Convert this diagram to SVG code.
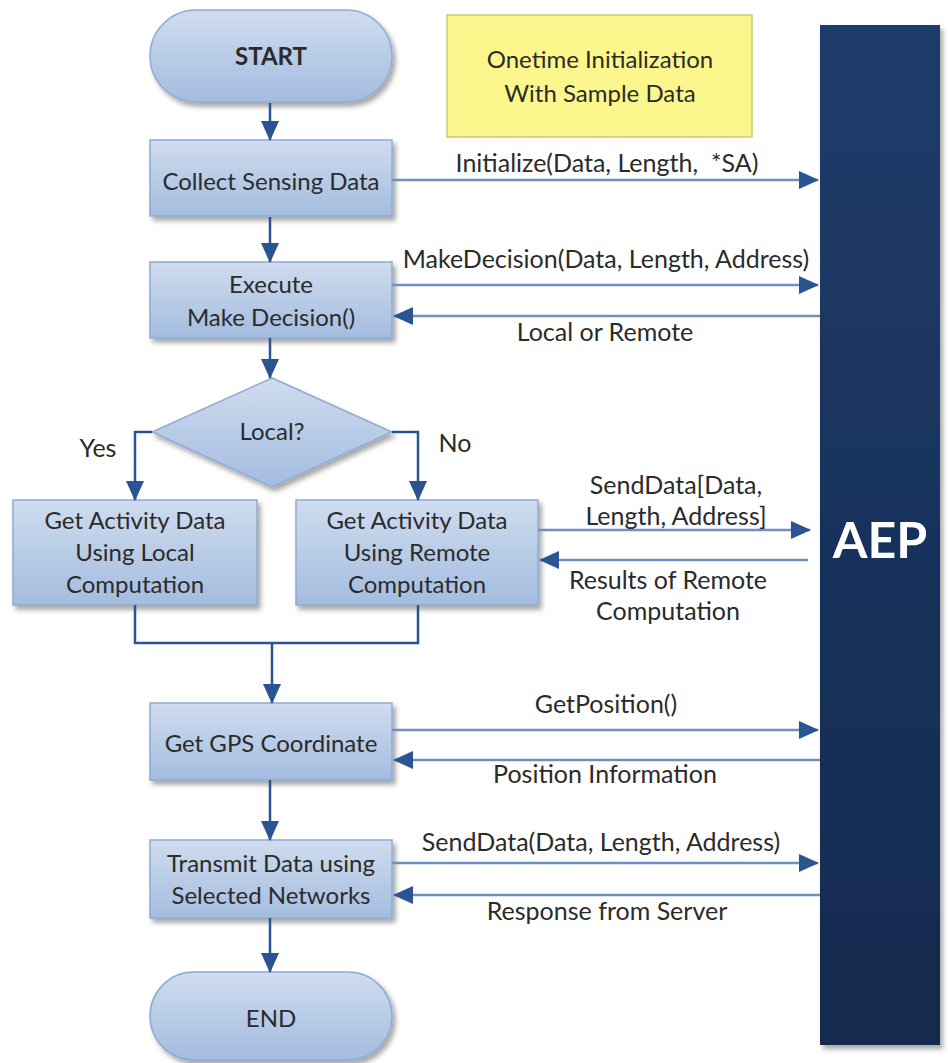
<svg xmlns="http://www.w3.org/2000/svg" width="948" height="1063" viewBox="0 0 948 1063">
<defs>
<linearGradient id="gBox" x1="0" y1="0" x2="0" y2="1">
<stop offset="0" stop-color="#cfdcee"/>
<stop offset="1" stop-color="#a3bcdf"/>
</linearGradient>
<linearGradient id="gAep" x1="0" y1="0" x2="0" y2="1">
<stop offset="0" stop-color="#1f3c6a"/>
<stop offset="1" stop-color="#122a4e"/>
</linearGradient>
<filter id="sh" x="-10%" y="-10%" width="125%" height="130%">
<feDropShadow dx="3" dy="4" stdDeviation="2.5" flood-color="#000" flood-opacity="0.35"/>
</filter>
<marker id="ah" viewBox="0 0 20 18" markerUnits="userSpaceOnUse" markerWidth="20" markerHeight="18" refX="19" refY="9" orient="auto">
<path d="M0,0 L20,9 L0,18 z" fill="#2b5592"/>
</marker>
</defs>
<style>
.node{fill:url(#gBox);stroke:#8fabd3;stroke-width:1.5;filter:url(#sh)}
.t{font-family:Lato,"Open Sans",sans-serif;font-size:24px;fill:#2b2b2b;text-anchor:middle}
.lbl{font-family:Lato,"Open Sans",sans-serif;font-size:25px;fill:#2b2b2b;text-anchor:middle}
.c{fill:none;stroke:#2b5592;stroke-width:2.5}
.ca{fill:none;stroke:#2b5592;stroke-width:2.5;marker-end:url(#ah)}
.cb{fill:none;stroke:#6f8fbf;stroke-width:2.5;marker-end:url(#ah)}
</style>
<rect width="948" height="1063" fill="#ffffff"/>

<g id="aep">
<rect x="820" y="25" width="120" height="1020" fill="url(#gAep)" filter="url(#sh)"/>
<text x="880" y="558" font-family="Lato,'Open Sans',sans-serif" font-size="50" font-weight="bold" fill="#ffffff" text-anchor="middle">AEP</text>
</g>

<g id="note">
<rect x="447" y="15" width="305" height="122" fill="#fbf78d" stroke="#cfc77a" stroke-width="1.5"/>
<text class="t" x="600" y="68">Onetime Initialization</text>
<text class="t" x="600" y="102">With Sample Data</text>
</g>

<g id="start">
<rect class="node" x="150" y="10" width="242" height="92" rx="46" ry="46"/>
<text class="t" x="271" y="65" font-weight="bold" font-size="22">START</text>
</g>
<g id="collect">
<rect class="node" x="150" y="140" width="242" height="76"/>
<text class="t" x="271" y="190">Collect Sensing Data</text>
</g>
<g id="execute">
<rect class="node" x="150" y="262" width="242" height="76"/>
<text class="t" x="271" y="293">Execute</text>
<text class="t" x="271" y="326">Make Decision()</text>
</g>
<g id="decision">
<polygon class="node" points="272,378 392,432 272,487 152,432"/>
<text class="t" x="272" y="440">Local?</text>
</g>
<g id="local">
<rect class="node" x="13" y="500" width="244" height="105"/>
<text class="t" x="135" y="529">Get Activity Data</text>
<text class="t" x="135" y="561">Using Local</text>
<text class="t" x="135" y="593">Computation</text>
</g>
<g id="remote">
<rect class="node" x="296" y="500" width="242" height="105"/>
<text class="t" x="417" y="529">Get Activity Data</text>
<text class="t" x="417" y="561">Using Remote</text>
<text class="t" x="417" y="593">Computation</text>
</g>
<g id="gps">
<rect class="node" x="150" y="703" width="242" height="77"/>
<text class="t" x="271" y="752">Get GPS Coordinate</text>
</g>
<g id="transmit">
<rect class="node" x="150" y="840" width="242" height="78"/>
<text class="t" x="271" y="872">Transmit Data using</text>
<text class="t" x="271" y="904">Selected Networks</text>
</g>
<g id="end">
<rect class="node" x="150" y="972" width="242" height="88" rx="44" ry="44"/>
<text class="t" x="271" y="1027" font-size="22">END</text>
</g>

<g id="connectors">
<line class="ca" x1="270" y1="103" x2="270" y2="140"/>
<line class="ca" x1="270" y1="217" x2="270" y2="262"/>
<line class="ca" x1="270" y1="338" x2="270" y2="378"/>
<polyline class="ca" points="152,432 135,432 135,500"/>
<polyline class="ca" points="392,432 418,432 418,500"/>
<polyline class="c" points="135,605 135,643 418,643 418,605"/>
<line class="ca" x1="272" y1="643" x2="272" y2="703"/>
<line class="ca" x1="270" y1="780" x2="270" y2="840"/>
<line class="ca" x1="270" y1="918" x2="270" y2="972"/>

<line class="cb" x1="392" y1="180" x2="818" y2="180"/>
<line class="cb" x1="392" y1="285" x2="818" y2="285"/>
<line class="cb" x1="820" y1="316" x2="394" y2="316"/>
<line class="cb" x1="538" y1="530" x2="810" y2="530"/>
<line class="cb" x1="808" y1="560" x2="540" y2="560"/>
<line class="cb" x1="392" y1="730" x2="818" y2="730"/>
<line class="cb" x1="820" y1="760" x2="394" y2="760"/>
<line class="cb" x1="392" y1="863" x2="818" y2="863"/>
<line class="cb" x1="820" y1="895" x2="394" y2="895"/>

<text class="lbl" x="98" y="457">Yes</text>
<text class="lbl" x="455" y="452">No</text>
<text class="lbl" x="607" y="172" xml:space="preserve">Initialize(Data, Length,  *SA)</text>
<text class="lbl" x="606" y="268">MakeDecision(Data, Length, Address)</text>
<text class="lbl" x="605" y="341">Local or Remote</text>
<text class="lbl" x="676" y="494">SendData[Data,</text>
<text class="lbl" x="676" y="525">Length, Address]</text>
<text class="lbl" x="668" y="589">Results of Remote</text>
<text class="lbl" x="668" y="620">Computation</text>
<text class="lbl" x="606" y="713">GetPosition()</text>
<text class="lbl" x="605" y="783">Position Information</text>
<text class="lbl" x="601" y="851">SendData(Data, Length, Address)</text>
<text class="lbl" x="607" y="920">Response from Server</text>
</g>
</svg>
